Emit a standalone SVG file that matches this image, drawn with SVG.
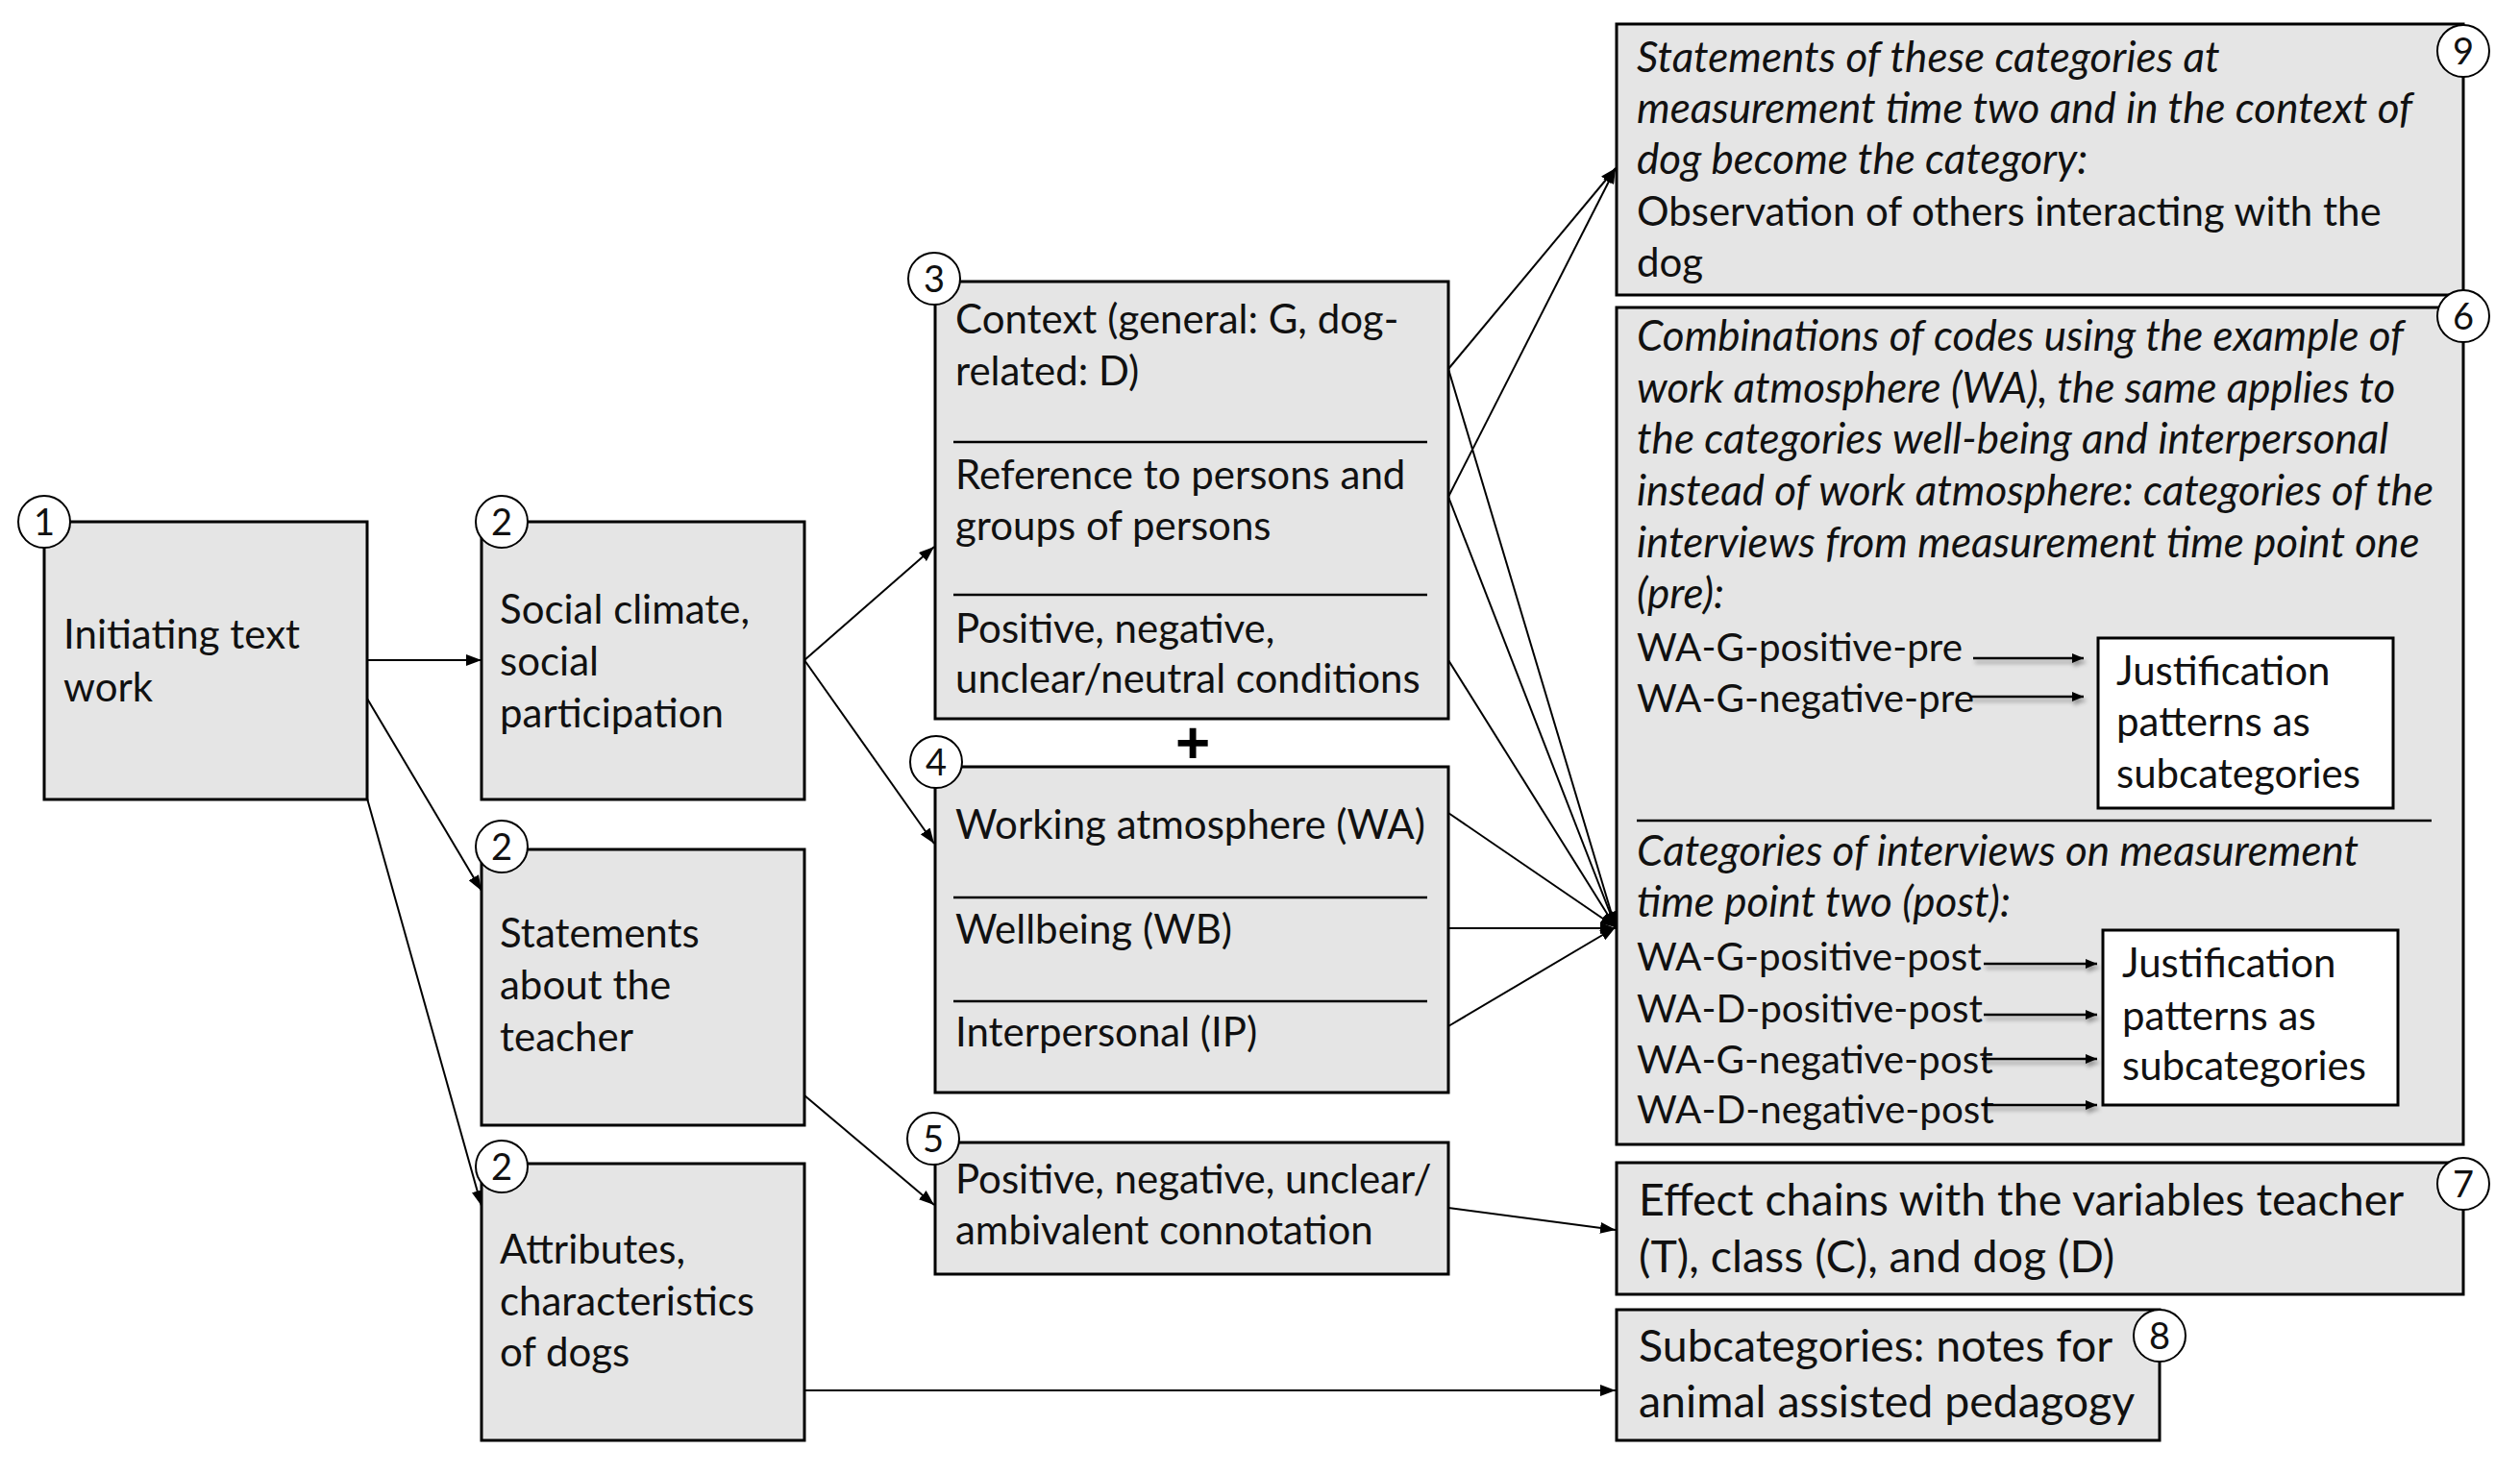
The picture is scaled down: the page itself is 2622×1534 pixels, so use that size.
<svg xmlns="http://www.w3.org/2000/svg" width="2622" height="1534" viewBox="0 0 2622 1534">
<style>
.box{fill:#e5e5e5;stroke:#000;stroke-width:3}
.wbox{fill:#fff;stroke:#000;stroke-width:3}
.sep{stroke:#000;stroke-width:2.5}
.t{font-family:Lato,"Liberation Sans",sans-serif;font-size:42px;fill:#111}
.i{font-style:italic;font-size:44px}
.wa{font-size:40.4px}
.big{font-size:46.5px}
.num{fill:#fff;stroke:#000;stroke-width:2}
.nt{font-family:Lato,"Liberation Sans",sans-serif;font-size:38px;fill:#111;text-anchor:middle}
.c{stroke:#000;stroke-width:2;fill:none}
.sa{stroke:#000;stroke-width:2.5;fill:none}
</style>
<defs>
<marker id="ah" markerUnits="userSpaceOnUse" markerWidth="16" markerHeight="12" refX="16" refY="6" orient="auto"><path d="M0,0 L16,6 L0,12 z" fill="#000"/></marker>
<marker id="ahs" markerUnits="userSpaceOnUse" markerWidth="12" markerHeight="10" refX="12" refY="5" orient="auto"><path d="M0,0 L12,5 L0,10 z" fill="#000"/></marker>
<filter id="sh" x="-10%" y="-100%" width="120%" height="400%"><feDropShadow dx="2" dy="4" stdDeviation="2" flood-color="#000" flood-opacity="0.35"/></filter>
</defs>
<rect width="2622" height="1534" fill="#fff"/>

<g id="connectors">
<line class="c" x1="382" y1="687" x2="501" y2="687" marker-end="url(#ah)"/>
<line class="c" x1="382" y1="727" x2="501" y2="927" marker-end="url(#ah)"/>
<line class="c" x1="382" y1="831" x2="501" y2="1255" marker-end="url(#ah)"/>
<line class="c" x1="837" y1="687" x2="972" y2="569" marker-end="url(#ah)"/>
<line class="c" x1="837" y1="687" x2="972" y2="878" marker-end="url(#ah)"/>
<line class="c" x1="837" y1="1140" x2="972" y2="1254" marker-end="url(#ah)"/>
<line class="c" x1="837" y1="1447" x2="1681" y2="1447" marker-end="url(#ah)"/>
<line class="c" x1="1507" y1="1257" x2="1681" y2="1280" marker-end="url(#ah)"/>
<line class="c" x1="1507" y1="384" x2="1681" y2="175" marker-end="url(#ah)"/>
<line class="c" x1="1507" y1="517" x2="1681" y2="175" marker-end="url(#ah)"/>
<line class="c" x1="1507" y1="384" x2="1681" y2="965" marker-end="url(#ah)"/>
<line class="c" x1="1507" y1="517" x2="1681" y2="965" marker-end="url(#ah)"/>
<line class="c" x1="1507" y1="687" x2="1681" y2="965" marker-end="url(#ah)"/>
<line class="c" x1="1507" y1="846" x2="1681" y2="965" marker-end="url(#ah)"/>
<line class="c" x1="1507" y1="966" x2="1681" y2="966" marker-end="url(#ah)"/>
<line class="c" x1="1507" y1="1068" x2="1681" y2="965" marker-end="url(#ah)"/>
</g>

<g id="n1">
<rect class="box" x="46" y="543" width="336" height="289"/>
<text class="t" x="66" y="675">Initiating text</text>
<text class="t" x="66" y="730">work</text>
<circle class="num" cx="46" cy="543" r="27"/>
<text class="nt" x="46" y="557">1</text>
</g>

<g id="n2a">
<rect class="box" x="501" y="543" width="336" height="289"/>
<text class="t" x="520" y="649">Social climate,</text>
<text class="t" x="520" y="703">social</text>
<text class="t" x="520" y="757">participation</text>
<circle class="num" cx="522" cy="543" r="27"/>
<text class="nt" x="522" y="557">2</text>
</g>

<g id="n2b">
<rect class="box" x="501" y="884" width="336" height="287"/>
<text class="t" x="520" y="986">Statements</text>
<text class="t" x="520" y="1040">about the</text>
<text class="t" x="520" y="1094">teacher</text>
<circle class="num" cx="522" cy="881" r="27"/>
<text class="nt" x="522" y="895">2</text>
</g>

<g id="n2c">
<rect class="box" x="501" y="1211" width="336" height="288"/>
<text class="t" x="520" y="1315">Attributes,</text>
<text class="t" x="520" y="1369">characteristics</text>
<text class="t" x="520" y="1422">of dogs</text>
<circle class="num" cx="522" cy="1214" r="27"/>
<text class="nt" x="522" y="1228">2</text>
</g>

<g id="n3">
<rect class="box" x="973" y="293" width="534" height="455"/>
<text class="t" x="994" y="347">Context (general: G, dog-</text>
<text class="t" x="994" y="401">related: D)</text>
<line class="sep" x1="992" y1="460" x2="1485" y2="460"/>
<text class="t" x="994" y="509">Reference to persons and</text>
<text class="t" x="994" y="562">groups of persons</text>
<line class="sep" x1="992" y1="619" x2="1485" y2="619"/>
<text class="t" x="994" y="669">Positive, negative,</text>
<text class="t" x="994" y="721">unclear/neutral conditions</text>
<circle class="num" cx="972" cy="290" r="27"/>
<text class="nt" x="972" y="304">3</text>
</g>

<text id="plus" x="1241" y="794" style="font-family:'Liberation Sans',sans-serif;font-size:62px;font-weight:bold;text-anchor:middle;fill:#000">+</text>

<g id="n4">
<rect class="box" x="973" y="798" width="534" height="339"/>
<text class="t" x="994" y="873">Working atmosphere (WA)</text>
<line class="sep" x1="992" y1="934" x2="1485" y2="934"/>
<text class="t" x="994" y="982">Wellbeing (WB)</text>
<line class="sep" x1="992" y1="1042" x2="1485" y2="1042"/>
<text class="t" x="994" y="1089">Interpersonal (IP)</text>
<circle class="num" cx="974" cy="793" r="27"/>
<text class="nt" x="974" y="807">4</text>
</g>

<g id="n5">
<rect class="box" x="973" y="1189" width="534" height="137"/>
<text class="t" x="994" y="1242">Positive, negative, unclear/</text>
<text class="t" x="994" y="1295">ambivalent connotation</text>
<circle class="num" cx="971" cy="1185" r="27"/>
<text class="nt" x="971" y="1199">5</text>
</g>

<g id="n9">
<rect class="box" x="1682" y="25" width="881" height="282"/>
<text class="t i" x="1703" y="75">Statements of these categories at</text>
<text class="t i" x="1703" y="128">measurement time two and in the context of</text>
<text class="t i" x="1703" y="181">dog become the category:</text>
<text class="t" x="1703" y="235">Observation of others interacting with the</text>
<text class="t" x="1703" y="288">dog</text>
<circle class="num" cx="2563" cy="53" r="27"/>
<text class="nt" x="2563" y="67">9</text>
</g>

<g id="n6">
<rect class="box" x="1682" y="320" width="881" height="871"/>
<text class="t i" x="1703" y="365">Combinations of codes using the example of</text>
<text class="t i" x="1703" y="419">work atmosphere (WA), the same applies to</text>
<text class="t i" x="1703" y="472">the categories well-being and interpersonal</text>
<text class="t i" x="1703" y="526">instead of work atmosphere: categories of the</text>
<text class="t i" x="1703" y="580">interviews from measurement time point one</text>
<text class="t i" x="1703" y="633">(pre):</text>
<text class="t wa" x="1703" y="688">WA-G-positive-pre</text>
<text class="t wa" x="1703" y="741">WA-G-negative-pre</text>
<rect class="wbox" x="2183" y="664" width="307" height="177"/>
<text class="t" x="2202" y="713">Justification</text>
<text class="t" x="2202" y="766">patterns as</text>
<text class="t" x="2202" y="820">subcategories</text>
<g filter="url(#sh)">
<line class="sa" x1="2053" y1="685" x2="2168" y2="685" marker-end="url(#ahs)"/>
<line class="sa" x1="2050" y1="725" x2="2168" y2="725" marker-end="url(#ahs)"/>
</g>
<line class="sep" x1="1703" y1="854" x2="2530" y2="854"/>
<text class="t i" x="1703" y="901">Categories of interviews on measurement</text>
<text class="t i" x="1703" y="954">time point two (post):</text>
<text class="t wa" x="1703" y="1010">WA-G-positive-post</text>
<text class="t wa" x="1703" y="1064">WA-D-positive-post</text>
<text class="t wa" x="1703" y="1117">WA-G-negative-post</text>
<text class="t wa" x="1703" y="1169">WA-D-negative-post</text>
<rect class="wbox" x="2188" y="968" width="307" height="182"/>
<text class="t" x="2208" y="1017">Justification</text>
<text class="t" x="2208" y="1072">patterns as</text>
<text class="t" x="2208" y="1124">subcategories</text>
<g filter="url(#sh)">
<line class="sa" x1="2064" y1="1003" x2="2182" y2="1003" marker-end="url(#ahs)"/>
<line class="sa" x1="2064" y1="1056" x2="2182" y2="1056" marker-end="url(#ahs)"/>
<line class="sa" x1="2062" y1="1102" x2="2182" y2="1102" marker-end="url(#ahs)"/>
<line class="sa" x1="2062" y1="1150" x2="2182" y2="1150" marker-end="url(#ahs)"/>
</g>
<circle class="num" cx="2563" cy="329" r="27"/>
<text class="nt" x="2563" y="343">6</text>
</g>

<g id="n7">
<rect class="box" x="1682" y="1210" width="881" height="137"/>
<text class="t big" x="1705" y="1265">Effect chains with the variables teacher</text>
<text class="t big" x="1705" y="1324">(T), class (C), and dog (D)</text>
<circle class="num" cx="2563" cy="1232" r="27"/>
<text class="nt" x="2563" y="1246">7</text>
</g>

<g id="n8">
<rect class="box" x="1682" y="1363" width="565" height="136"/>
<text class="t big" x="1705" y="1417">Subcategories: notes for</text>
<text class="t big" x="1705" y="1475">animal assisted pedagogy</text>
<circle class="num" cx="2247" cy="1390" r="27"/>
<text class="nt" x="2247" y="1404">8</text>
</g>
</svg>
